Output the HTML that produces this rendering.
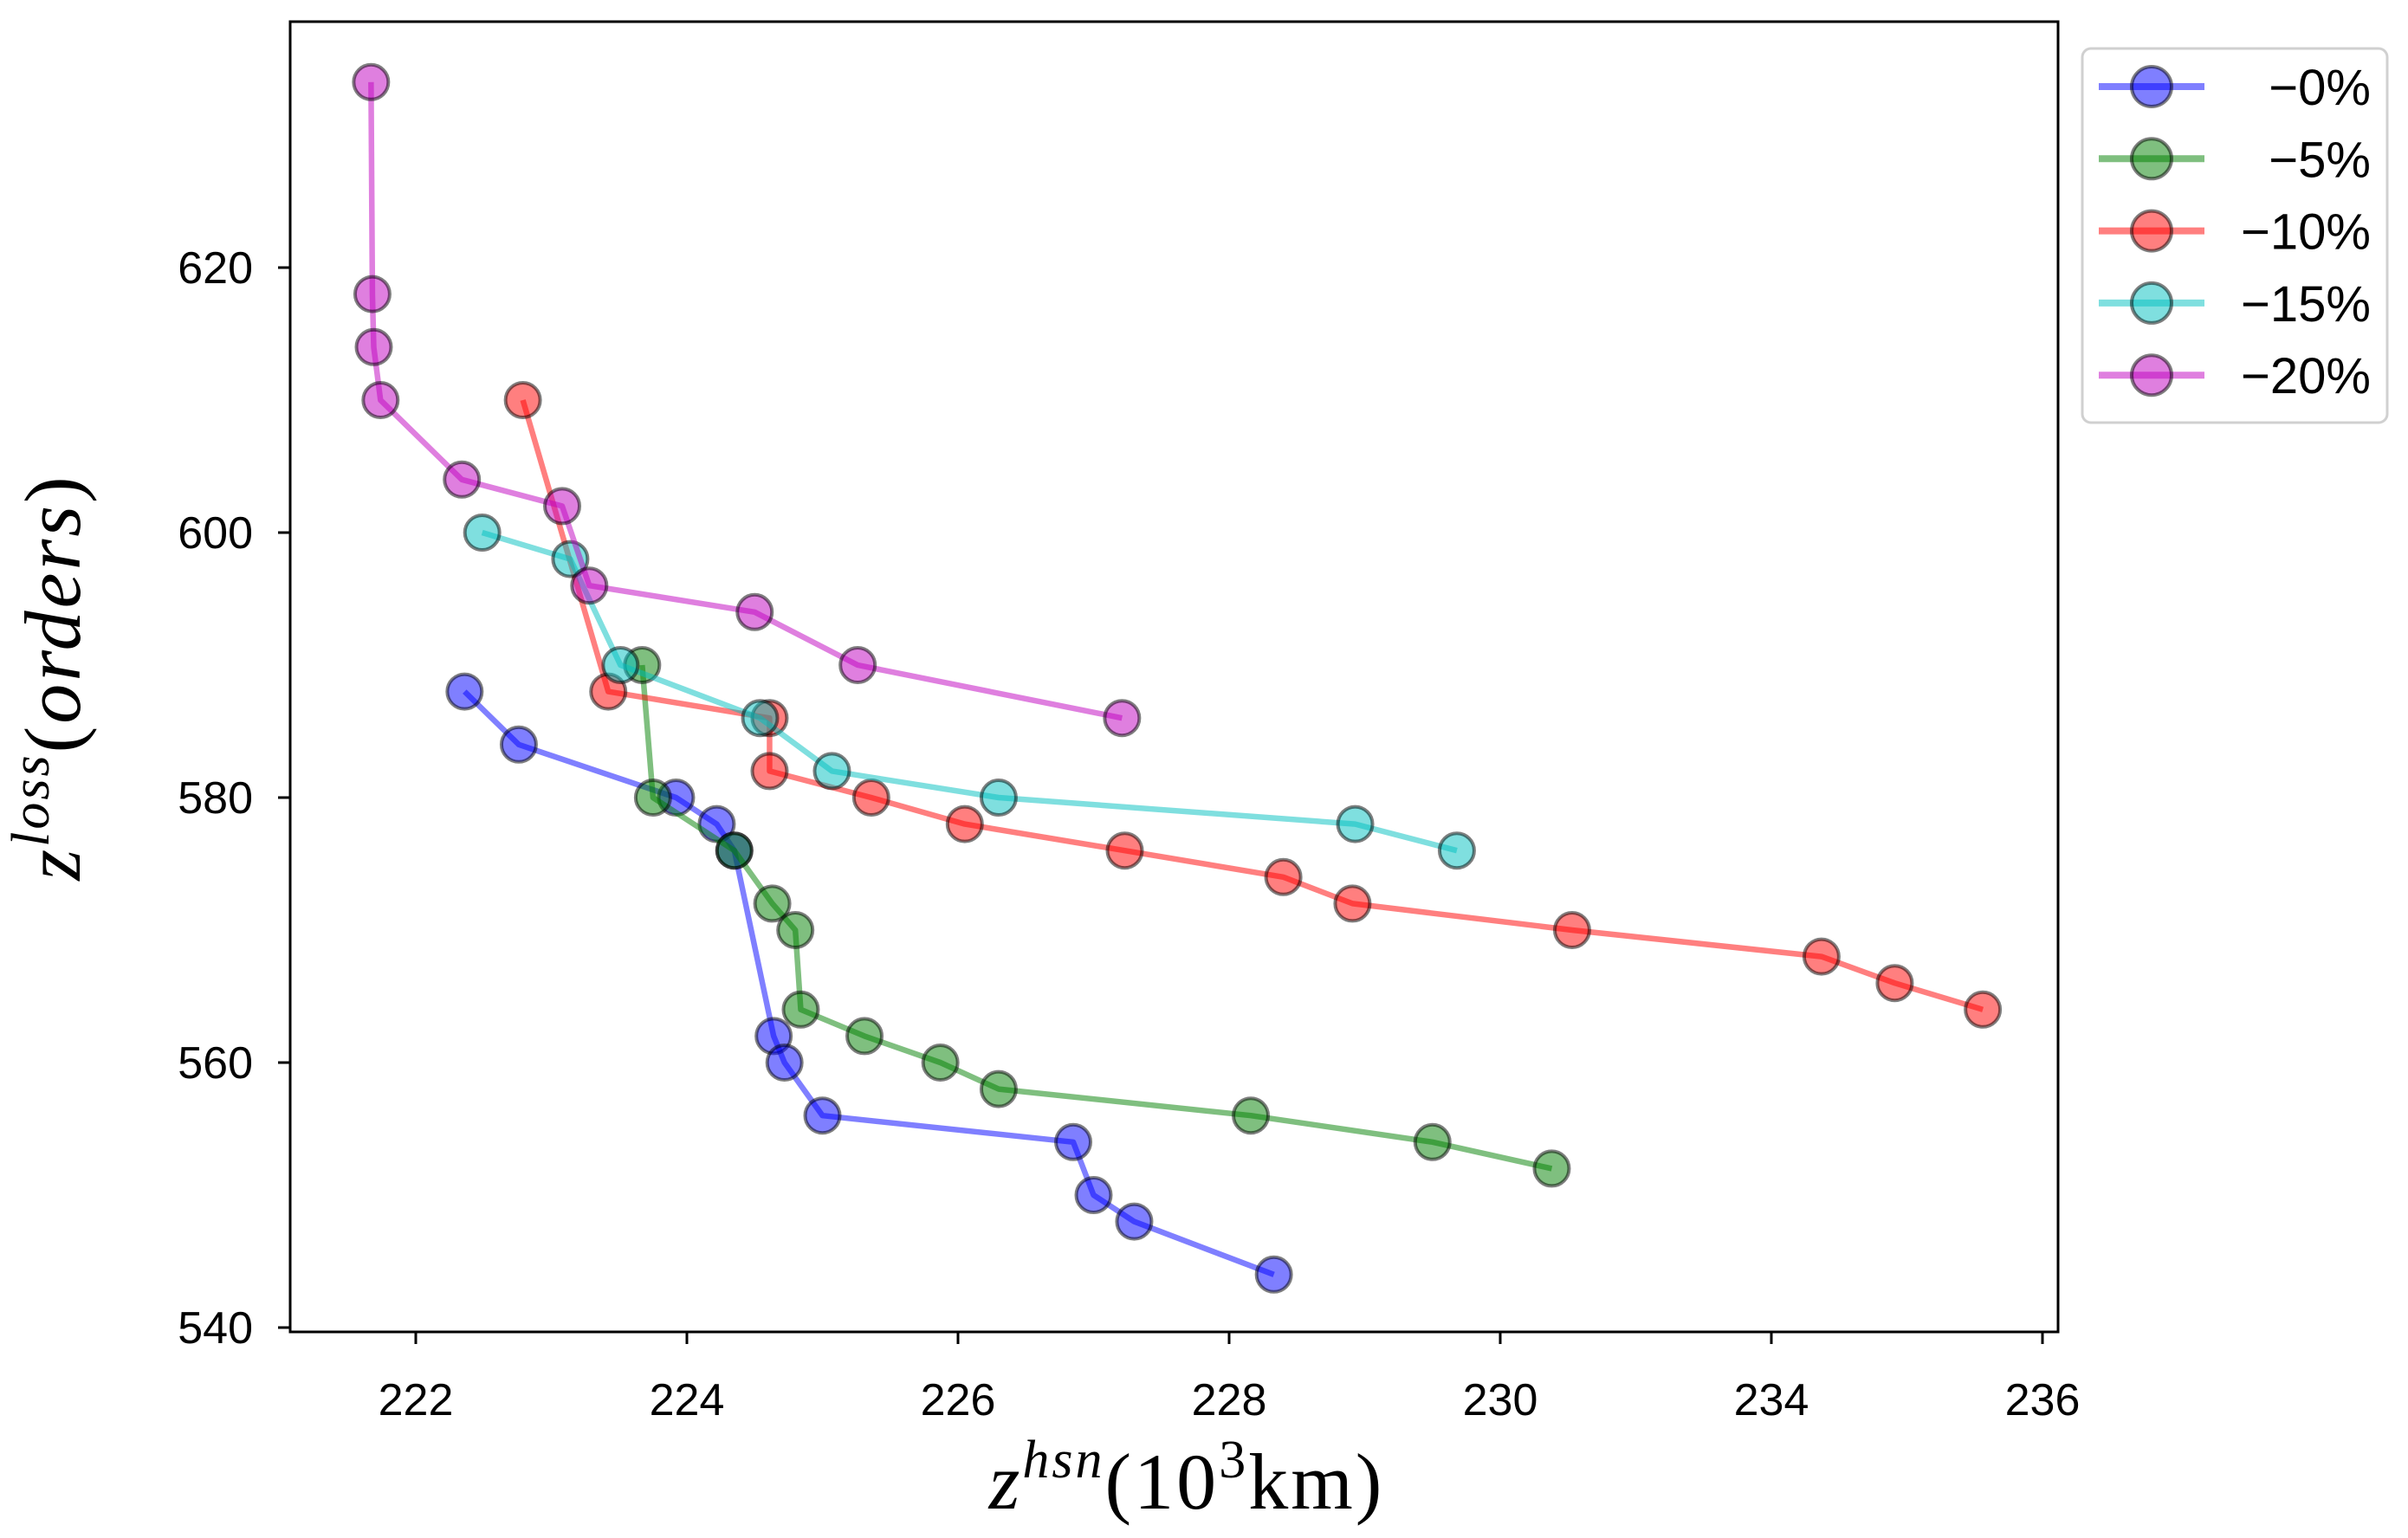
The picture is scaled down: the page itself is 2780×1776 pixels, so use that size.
<!DOCTYPE html>
<html><head><meta charset="utf-8"><style>
html,body{margin:0;padding:0;background:#fff;}
svg{display:block;font-family:"Liberation Sans",sans-serif;}
</style></head><body>
<svg id="chart" width="2780" height="1776" viewBox="0 0 2780 1776" xmlns="http://www.w3.org/2000/svg">
<rect x="0" y="0" width="2780" height="1776" fill="#fff"/>
<g id="plot"></g>
<rect x="335" y="25" width="2041" height="1513" fill="none" stroke="#000" stroke-width="3"/>
<g id="axes"></g>
<text x="92" y="782" transform="rotate(-90 92 782)" text-anchor="middle" font-family="Liberation Serif, serif" font-size="92" letter-spacing="3"><tspan font-style="italic">z</tspan><tspan font-style="italic" font-size="62" dy="-36">loss</tspan><tspan dy="36">(</tspan><tspan font-style="italic">orders</tspan><tspan>)</tspan></text>
<text x="1370" y="1742" text-anchor="middle" font-family="Liberation Serif, serif" font-size="92" letter-spacing="3"><tspan font-style="italic">z</tspan><tspan font-style="italic" font-size="62" dy="-36">hsn</tspan><tspan dy="36">(10</tspan><tspan font-size="62" dy="-36">3</tspan><tspan dy="36">km)</tspan></text>
<g id="legend"></g>
</svg>
<script>
const xTickVals = [222,224,226,228,230,232,234];
const xTickLabels = ["222","224","226","228","230","234","236"];
const yTickVals = [540,560,580,600,620];
const seriesNames = ["\u22120%","\u22125%","\u221210%","\u221215%","\u221220%"];
const seriesColors = ["#0000ff","#008000","#ff0000","#00bfbf","#bf00bf"];
const blueX = [222.36,222.76,223.92,224.22,224.35,224.64,224.72,225.0,226.85,227.0,227.3,228.33];
const blueY = [588,584,580,578,576,562,560,556,554,550,548,544];
const greenX = [223.67,223.75,224.35,224.63,224.80,224.84,225.31,225.87,226.30,228.16,229.5,230.38];
const greenY = [590,580,576,572,570,564,562,560,558,556,554,552];
const redX = [222.79,223.42,224.61,224.61,225.36,226.05,227.23,228.4,228.91,230.53,232.37,232.91,233.56];
const redY = [610,588,586,582,580,578,576,574,572,570,568,566,564];
const cyanX = [222.49,223.14,223.51,224.54,225.07,226.30,228.93,229.68];
const cyanY = [600,598,590,586,582,580,578,576];
const magX = [221.67,221.68,221.69,221.74,222.34,223.08,223.28,224.50,225.26,227.21];
const magY = [634,618,614,610,604,602,596,594,590,586];

const NS="http://www.w3.org/2000/svg";
function xs(v){return 480+(v-222)*156.5;}
function ys(v){return 1533-(v-540)*15.3;}
function mk(tag,attrs,parent){const e=document.createElementNS(NS,tag);for(const k in attrs)e.setAttribute(k,attrs[k]);parent.appendChild(e);return e;}

const axes=document.getElementById('axes');
xTickVals.forEach((v,i)=>{
  const t=mk('line',{x1:xs(v),x2:xs(v),y1:1538,y2:1552,stroke:'#000','stroke-width':3},axes);
  
  
  const l=mk('text',{x:xs(v),y:1634,'text-anchor':'middle','font-size':52},axes);
  l.textContent=xTickLabels[i];
  
  
});
yTickVals.forEach(v=>{
  const t=mk('line',{x1:321,x2:335,y1:ys(v),y2:ys(v),stroke:'#000','stroke-width':3},axes);
  
  
  const l=mk('text',{x:292,y:ys(v)+18,'text-anchor':'end','font-size':52},axes);
  l.textContent=String(v);
  
  
});

const plot=document.getElementById('plot');
const allX=[blueX,greenX,redX,cyanX,magX];
const allY=[blueY,greenY,redY,cyanY,magY];
allX.forEach((X,s)=>{
  const g=mk('g',{},plot);
  
  
  const pts=X.map((x,i)=>xs(x)+','+ys(allY[s][i])).join(' ');
  const pl=mk('polyline',{points:pts,fill:'none',stroke:seriesColors[s],'stroke-opacity':0.5,'stroke-width':6.5,'stroke-linejoin':'round'},g);
  
  
  X.forEach((x,i)=>{
    const c=mk('circle',{cx:xs(x),cy:ys(allY[s][i]),r:20,fill:seriesColors[s],'fill-opacity':0.5,stroke:'#000','stroke-opacity':0.5,'stroke-width':4},g);
    
    
  });
});

const leg=document.getElementById('legend');
const box=mk('rect',{x:2404,y:56,width:352,height:432,rx:10,fill:'#fff',stroke:'#d0d0d0','stroke-width':3},leg);


seriesNames.forEach((n,i)=>{
  const y=100+i*83.3;
  const g=mk('g',{},leg);
  
  
  mk('line',{x1:2423,x2:2545,y1:y,y2:y,stroke:seriesColors[i],'stroke-opacity':0.5,'stroke-width':8},g);
  mk('circle',{cx:2484,cy:y,r:23,fill:seriesColors[i],'fill-opacity':0.5,stroke:'#000','stroke-opacity':0.5,'stroke-width':4},g);
  const t=mk('text',{x:2737,y:y+21,'text-anchor':'end','font-size':58},g);
  t.textContent=n;
  
  
});
</script>
</body></html>
